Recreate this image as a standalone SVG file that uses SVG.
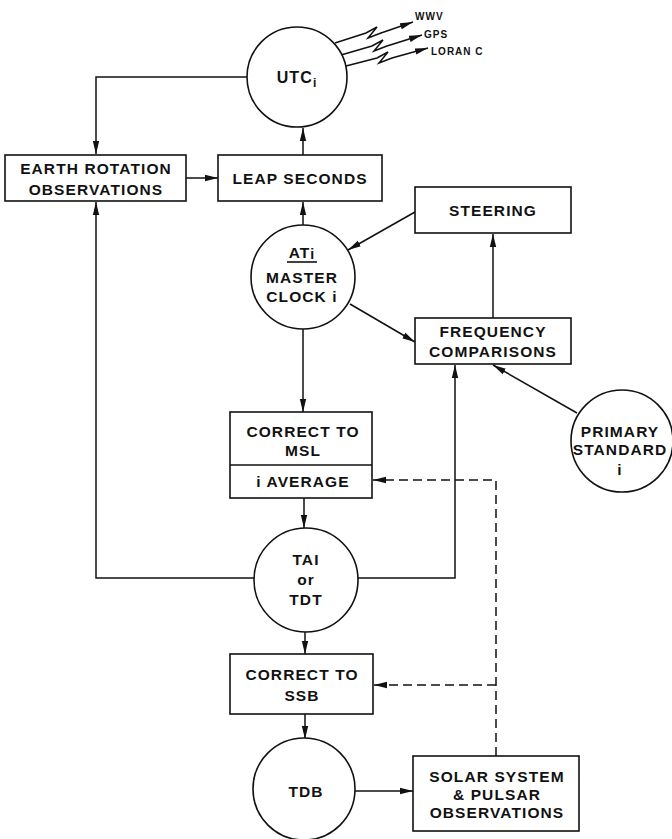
<svg xmlns="http://www.w3.org/2000/svg" width="672" height="839" viewBox="0 0 672 839">
<style>
.n{fill:#fff;stroke:#111;stroke-width:1.6}
.t{font-family:"Liberation Sans",Arial,sans-serif;font-weight:bold;font-size:15.5px;letter-spacing:1.1px;fill:#111;text-anchor:middle}
.s{font-family:"Liberation Sans",Arial,sans-serif;font-weight:bold;font-size:10px;letter-spacing:1px;fill:#111}
.c{fill:none;stroke:#111;stroke-width:1.5}
.a{marker-end:url(#ah)}
.d{stroke-dasharray:9,5}
</style>
<defs>
<marker id="ah" markerUnits="userSpaceOnUse" markerWidth="14" markerHeight="8" refX="13" refY="4" orient="auto">
<path d="M0,0.8 L13,4 L0,7.2 Z" fill="#111"/>
</marker>
</defs>
<rect width="672" height="839" fill="#fff"/>
<g id="connectors">
<path class="c a" d="M247,77 H96 V154"/>
<path class="c a" d="M303,155 V128"/>
<path class="c a" d="M186,178 H218"/>
<path class="c a" d="M303,225 V202"/>
<path class="c a" d="M415,212 L348,250"/>
<path class="c a" d="M493,318 V234"/>
<path class="c a" d="M350,304 L415,342"/>
<path class="c a" d="M303,329 V412"/>
<path class="c a" d="M304,498 V528"/>
<path class="c a" d="M254,578 H96 V202"/>
<path class="c a" d="M358,578 H455 V365"/>
<path class="c a" d="M577,413 L493,365"/>
<path class="c a" d="M305,632 V654"/>
<path class="c a" d="M305,714 V739"/>
<path class="c a" d="M355,791 H413"/>
<path class="c d" d="M496,756 V480 H385"/>
<path class="c a" d="M386,480 H373"/>
<path class="c d" d="M496,685 H386"/>
<path class="c a" d="M387,685 H374"/>
<path class="c a" d="M335,43 L366,33 L377,27 L368,38 L381,33 L413,22"/>
<path class="c a" d="M341,55 L372,46 L383,40 L374,51 L387,46 L422,35"/>
<path class="c a" d="M346,66 L377,58 L388,52 L379,63 L392,58 L428,48"/>
</g>
<g id="radio-labels">
<text class="s" x="415" y="20">WWV</text>
<text class="s" x="424" y="38">GPS</text>
<text class="s" x="431" y="55">LORAN C</text>
</g>
<g id="utc">
<circle class="n" cx="297" cy="77" r="50"/>
<text class="t" x="297" y="83" style="font-size:16px">UTC<tspan font-size="12" dy="4">i</tspan></text>
</g>
<g id="earth-rotation">
<rect class="n" x="5" y="155" width="181" height="46"/>
<text class="t" x="96" y="174">EARTH ROTATION</text>
<text class="t" x="96" y="195">OBSERVATIONS</text>
</g>
<g id="leap-seconds">
<rect class="n" x="218" y="155" width="164" height="46"/>
<text class="t" x="300" y="184">LEAP SECONDS</text>
</g>
<g id="steering">
<rect class="n" x="415" y="187" width="156" height="46"/>
<text class="t" x="493" y="216">STEERING</text>
</g>
<g id="master-clock">
<circle class="n" cx="303" cy="277" r="52"/>
<text class="t" x="302" y="258">AT<tspan font-size="14" dy="1">i</tspan></text>
<line x1="287" y1="262" x2="317" y2="262" stroke="#111" stroke-width="1.6"/>
<text class="t" x="302" y="283">MASTER</text>
<text class="t" x="302" y="302">CLOCK i</text>
</g>
<g id="frequency-comparisons">
<rect class="n" x="415" y="318" width="156" height="46"/>
<text class="t" x="493" y="337">FREQUENCY</text>
<text class="t" x="493" y="357">COMPARISONS</text>
</g>
<g id="primary-standard">
<circle class="n" cx="622" cy="441" r="51"/>
<text class="t" x="620" y="437">PRIMARY</text>
<text class="t" x="620" y="455">STANDARD</text>
<text class="t" x="620" y="475">i</text>
</g>
<g id="correct-msl">
<rect class="n" x="230" y="412" width="142" height="86"/>
<line x1="230" y1="465" x2="372" y2="465" stroke="#111" stroke-width="1.6"/>
<text class="t" x="303" y="437">CORRECT TO</text>
<text class="t" x="303" y="456">MSL</text>
<text class="t" x="303" y="487">i AVERAGE</text>
</g>
<g id="tai">
<circle class="n" cx="306" cy="580" r="52"/>
<text class="t" x="306" y="565">TAI</text>
<text class="t" x="306" y="585">or</text>
<text class="t" x="306" y="605">TDT</text>
</g>
<g id="correct-ssb">
<rect class="n" x="230" y="654" width="143" height="60"/>
<text class="t" x="302" y="680">CORRECT TO</text>
<text class="t" x="302" y="701">SSB</text>
</g>
<g id="tdb">
<circle class="n" cx="304" cy="789" r="51"/>
<text class="t" x="306" y="797">TDB</text>
</g>
<g id="solar-system">
<rect class="n" x="413" y="756" width="166" height="75"/>
<text class="t" x="497" y="782">SOLAR SYSTEM</text>
<text class="t" x="497" y="800">&amp; PULSAR</text>
<text class="t" x="497" y="818">OBSERVATIONS</text>
</g>
</svg>
